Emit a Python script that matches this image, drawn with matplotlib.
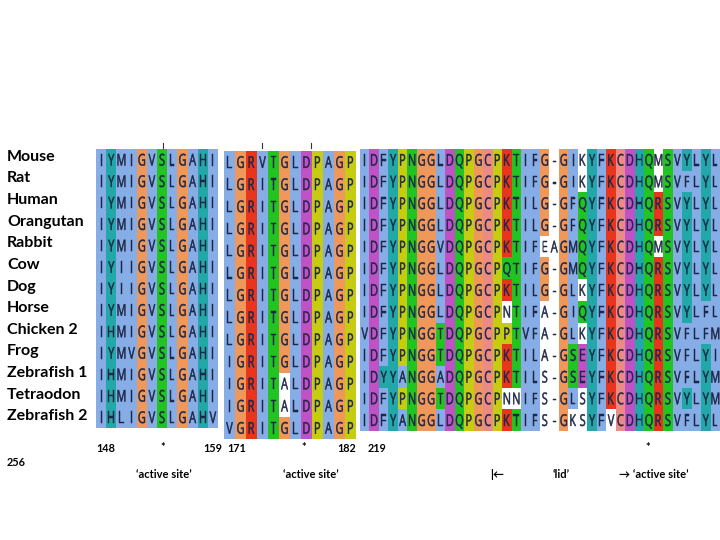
import matplotlib
matplotlib.use('Agg')
import matplotlib.pyplot as plt
from matplotlib.textpath import TextPath
from matplotlib.patches import PathPatch, Rectangle
from matplotlib.font_manager import FontProperties
from matplotlib.transforms import Affine2D

# ---------------- data ----------------
species = ["Mouse", "Rat", "Human", "Orangutan", "Rabbit", "Cow", "Dog", "Horse",
           "Chicken 2", "Frog", "Zebrafish 1", "Tetraodon", "Zebrafish 2"]

# lowercase letter = residue shown without colour (white background)
block1 = ["IYMIGVSLGAHI", "IYMIGVSLGAHI", "IYMIGVSLGAHI", "IYMIGVSLGAHI",
          "IYMIGVSLGAHI", "IYIIGVSLGAHI", "IYIIGVSLGAHI", "IYMIGVSLGAHI",
          "IHMIGVSLGAHI", "IYMVGVSLGAHI", "IHMIGVSLGAHI", "IHMIGVSLGAHI",
          "IHLIGVSLGAHV"]

block2 = ["LGRVTGLDPAGP", "LGRITGLDPAGP", "LGRITGLDPAGP", "LGRITGLDPAGP",
          "LGRITGLDPAGP", "LGRITGLDPAGP", "LGRITGLDPAGP", "LGRITGLDPAGP",
          "LGRITGLDPAGP", "IGRITGLDPAGP", "IGRITaLDPAGP", "IGRITaLDPAGP",
          "VGRITGLDPAGP"]

block3 = ["IDFYPNGGLDQPGCPKTIFG-GIkYFKCDHQmSVYLYL",
          "IDFYPNGGLDQPGCPKTIFG-GIkYFKCDHQmSVFLYL",
          "IDFYPNGGLDQPGCPKTILG-GFQYFKCDHQRSVYLYL",
          "IDFYPNGGLDQPGCPKTILG-GFQYFKCDHQRSVYLYL",
          "IDFYPNGGVDQPGCPKTIFeaGMQYFKCDHQmSVYLYL",
          "IDFYPNGGLDQPGCPQTIFG-GMQYFKCDHQRSVYLYL",
          "IDFYPNGGLDQPGCPKTILG-GLkYFKCDHQRSVYLYL",
          "IDFYPNGGLDQPGCPnTIFa-GIQYFKCDHQRSVYLFL",
          "VDFYPNGGTDQPGCPPTVFa-GLkYFKCDHQRSVFLFM",
          "IDFYPNGGTDQPGCPKTILa-GSEYFKCDHQRSVFLYI",
          "IDYYANGGADQPGCPKTILs-GSEYFKCDHQRSVFLYM",
          "IDFYPNGGTDQPGCPnnIFs-GLsYFKCDHQRSVYLYM",
          "IDFYANGGLDQPGCPKTIFs-GksYFvCDHQRSVFLYL"]

pos_labels = ["148", "*", "159", "171", "*", "182", "219", "*"]
region_labels = ["\u2018active site\u2019", "\u2018active site\u2019", "|\u2190", "\u2018lid\u2019",
                 "\u2192 \u2018active site\u2019"]

# ClustalX-like colour scheme (as rendered in the picture)
groups = {"AILMFVW": "#86ade6", "KR": "#e8361e", "NQST": "#22c422", "DE": "#c052c6",
          "G": "#f0985a", "P": "#c6cc12", "HY": "#22a8a8", "C": "#ec8a86"}


def colour(ch):
    if ch == "-" or ch.islower():
        return None
    for k, v in groups.items():
        if ch in k:
            return v
    return None


W, H = 720, 540
fig = plt.figure(figsize=(7.2, 5.4), dpi=100)


def add_px_axes(x0, y0, x1, y1):
    return fig.add_axes([x0 / W, 1 - y1 / H, (x1 - x0) / W, (y1 - y0) / H])


fp = FontProperties(family="Open Sans")
cap = TextPath((0, 0), "H", size=1, prop=fp).get_extents().y1
txtcol = "#1e2747"


def draw_block(ax, seqs, px_w, px_h):
    nr, nc = len(seqs), len(seqs[0])
    ax.set_xlim(0, nc)
    ax.set_ylim(nr, 0)
    ax.axis("off")
    sx = 11.0 / px_w
    sy = 16.2 / px_h
    for r, s in enumerate(seqs):
        for c, ch in enumerate(s):
            col = colour(ch)
            if col is not None:
                ax.add_patch(Rectangle((c, r), 1, 1, facecolor=col, edgecolor="none"))
            tp = TextPath((0, 0), ch.upper(), size=1, prop=fp)
            ext = tp.get_extents()
            cx = (ext.x0 + ext.x1) / 2
            tr = (Affine2D().translate(-cx, -cap / 2).scale(sx, -sy)
                  .translate(c + 0.5, r + 0.5) + ax.transData)
            ax.add_patch(PathPatch(tp, transform=tr, facecolor=txtcol,
                                   edgecolor=txtcol, linewidth=0.35))


blocks = [(block1, (96, 149, 218, 428)),
          (block2, (224, 151, 356, 439)),
          (block3, (360, 149, 720, 431))]
axes = []
for seqs, (x0, y0, x1, y1) in blocks:
    ax = add_px_axes(x0, y0, x1, y1)
    draw_block(ax, seqs, (x1 - x0) / len(seqs[0]), (y1 - y0) / len(seqs))
    axes.append(ax)

# species labels
lab = add_px_axes(0, 146, 96, 427)
lab.set_xlim(0, 96)
lab.set_ylim(len(species), 0)
lab.axis("off")
for i, name in enumerate(species):
    lab.text(7, i + 0.5, name, ha="left", va="center", fontsize=11.5,
             fontweight="bold", family="Lato", color="black")

# overlay for annotations
ov = fig.add_axes([0, 0, 1, 1])
ov.set_xlim(0, W)
ov.set_ylim(H, 0)
ov.axis("off")
ov.patch.set_alpha(0)

fam = ["Lato", "DejaVu Sans"]
num_x = [(96, "left"), (163, "center"), (213, "center"), (227, "left"),
         (304, "center"), (356, "right"), (368, "left"), (648, "center")]
for (x, ha), t in zip(num_x, pos_labels):
    ov.text(x, 448, t, ha=ha, va="center", fontsize=7.8, fontweight="bold",
            family=fam, color="black")
ov.text(7, 462, "256", ha="left", va="center", fontsize=7.8, fontweight="bold",
        family=fam, color="black")

reg_x = [164, 311, 497, 561, 654]
for x, t in zip(reg_x, region_labels):
    ov.text(x, 475, t, ha="center", va="center", fontsize=8, fontweight="bold",
            family=fam, color="black")

# small ruler ticks at the top
for x in (163, 262, 311):
    ov.plot([x, x], [143, 148], color="#333333", lw=0.8)

fig.savefig("out.png", dpi=100)
